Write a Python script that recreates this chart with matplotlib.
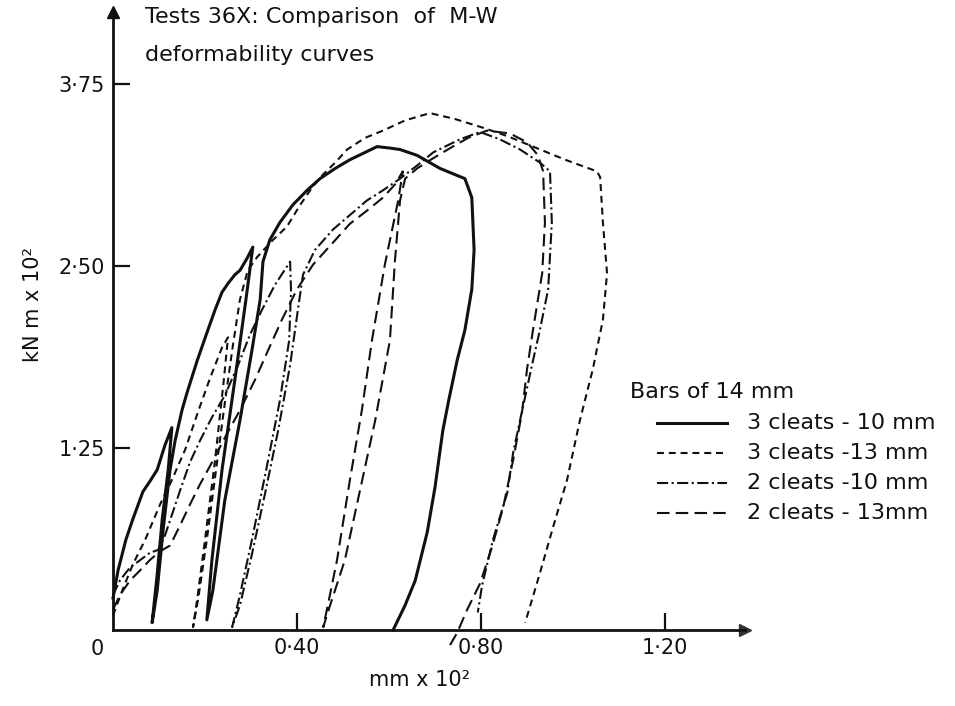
import matplotlib
matplotlib.use("Agg")
import matplotlib.pyplot as plt
from matplotlib.lines import Line2D

plt.rcParams['font.family'] = ['DejaVu Sans']
plt.rcParams['lines.scale_dashes'] = False

# ---------------- data (x: mm x 10^2, y: kN m x 10^2) ----------------
x_ticks = [0.40, 0.80, 1.20]
x_tick_labels = ["0·40", "0·80", "1·20"]
y_ticks = [1.25, 2.50, 3.75]
y_tick_labels = ["1·25", "2·50", "3·75"]

series_labels = ["3 cleats - 10 mm", "3 cleats -13 mm", "2 cleats -10 mm", "2 cleats - 13mm"]

# 3 cleats - 10 mm (solid)
s310_x = [0.000, 0.011, 0.028, 0.043, 0.065, 0.080, 0.096, 0.113, 0.128,
          0.120, 0.107, 0.096, 0.085,
          0.096, 0.109, 0.124, 0.135, 0.150, 0.161, 0.183, 0.204, 0.222, 0.237, 0.250,
          0.265, 0.276, 0.291, 0.304,
          0.289, 0.265, 0.237, 0.215, 0.204,
          0.217, 0.243, 0.276, 0.302, 0.320, 0.326,
          0.341, 0.363, 0.391, 0.422, 0.450, 0.483, 0.515, 0.548, 0.574, 0.602, 0.624,
          0.661, 0.711, 0.765, 0.780, 0.785, 0.780, 0.765, 0.748, 0.730, 0.717, 0.700,
          0.683, 0.657, 0.635, 0.609]
s310_y = [0.22, 0.41, 0.62, 0.76, 0.95, 1.02, 1.10, 1.27, 1.39,
          1.10, 0.76, 0.38, 0.05,
          0.27, 0.69, 1.10, 1.30, 1.51, 1.63, 1.85, 2.04, 2.20, 2.32, 2.38,
          2.44, 2.47, 2.55, 2.63,
          2.27, 1.72, 1.10, 0.48, 0.07,
          0.27, 0.89, 1.44, 1.92, 2.27, 2.53,
          2.68, 2.80, 2.92, 3.02, 3.10, 3.17, 3.23, 3.28, 3.32, 3.31, 3.30,
          3.26, 3.17, 3.10, 2.97, 2.61, 2.34, 2.06, 1.85, 1.58, 1.37, 0.98,
          0.67, 0.34, 0.17, 0.00]

# 3 cleats - 13 mm (short dashes)
s313_x = [0.000, 0.020, 0.043, 0.070, 0.102, 0.128, 0.157, 0.185, 0.211, 0.237, 0.250,
          0.241, 0.222, 0.200, 0.183, 0.174,
          0.185, 0.204, 0.224, 0.241, 0.259, 0.276, 0.293, 0.313, 0.348, 0.378, 0.407,
          0.433, 0.457, 0.483, 0.509, 0.548, 0.587, 0.635, 0.689, 0.743, 0.804, 0.859,
          0.913, 0.983, 1.052, 1.059, 1.065, 1.074, 1.065, 1.043, 1.015, 0.987, 0.957,
          0.928, 0.896]
s313_y = [0.10, 0.27, 0.45, 0.62, 0.86, 1.03, 1.24, 1.50, 1.73, 1.94, 2.01,
          1.72, 1.17, 0.62, 0.21, 0.02,
          0.21, 0.62, 1.10, 1.51, 1.92, 2.27, 2.47, 2.56, 2.68, 2.77, 2.92,
          3.04, 3.13, 3.21, 3.30, 3.38, 3.43, 3.50, 3.55, 3.51, 3.45, 3.39,
          3.32, 3.23, 3.15, 3.11, 2.80, 2.45, 2.13, 1.79, 1.44, 1.03, 0.71,
          0.39, 0.05]

# 2 cleats - 10 mm (dash-dot)
s210_x = [0.000, 0.015, 0.037, 0.059, 0.080, 0.098, 0.113, 0.128, 0.146, 0.167, 0.189,
          0.215, 0.243, 0.272, 0.298, 0.324, 0.352, 0.385,
          0.387, 0.383, 0.363, 0.333, 0.302, 0.276, 0.259,
          0.276, 0.302, 0.330, 0.359, 0.385, 0.402, 0.413,
          0.439, 0.478, 0.515, 0.552, 0.587, 0.624, 0.661, 0.696, 0.754, 0.798, 0.841,
          0.885, 0.928, 0.950, 0.954, 0.946, 0.928, 0.913, 0.891, 0.870, 0.857, 0.826,
          0.802, 0.793]
s210_y = [0.24, 0.34, 0.43, 0.48, 0.53, 0.55, 0.65, 0.79, 0.96, 1.15, 1.30,
          1.46, 1.61, 1.82, 2.03, 2.20, 2.37, 2.53,
          2.34, 1.99, 1.58, 1.10, 0.62, 0.24, 0.02,
          0.17, 0.52, 0.93, 1.37, 1.82, 2.20, 2.44,
          2.61, 2.75, 2.85, 2.95, 3.02, 3.10, 3.19, 3.28, 3.37, 3.42, 3.37,
          3.30, 3.21, 3.15, 2.80, 2.34, 2.06, 1.85, 1.53, 1.22, 0.94, 0.62,
          0.30, 0.12]

# 2 cleats - 13 mm (long dashes)
s213_x = [0.000, 0.015, 0.037, 0.059, 0.080, 0.102, 0.124, 0.146, 0.167, 0.189, 0.215,
          0.243, 0.276, 0.309, 0.337, 0.367, 0.400, 0.435, 0.478, 0.515, 0.552, 0.587,
          0.613, 0.630,
          0.620, 0.591, 0.563, 0.541, 0.515, 0.487, 0.467, 0.457,
          0.472, 0.504, 0.537, 0.570, 0.602, 0.613, 0.624, 0.635,
          0.661, 0.696, 0.733, 0.772, 0.813, 0.863, 0.900, 0.924, 0.935, 0.939, 0.933,
          0.913, 0.900, 0.889, 0.870, 0.848, 0.824, 0.798, 0.770, 0.748, 0.726]
s213_y = [0.14, 0.24, 0.34, 0.41, 0.48, 0.54, 0.58, 0.72, 0.86, 1.00, 1.15,
          1.32, 1.51, 1.72, 1.92, 2.13, 2.34, 2.51, 2.66, 2.79, 2.88, 2.97,
          3.06, 3.15,
          2.95, 2.51, 1.99, 1.51, 1.03, 0.48, 0.17, 0.02,
          0.17, 0.48, 0.96, 1.44, 1.99, 2.54, 2.95, 3.10,
          3.17, 3.24, 3.31, 3.38, 3.43, 3.41, 3.35, 3.26, 3.15, 2.80, 2.45,
          2.06, 1.79, 1.49, 1.17, 0.84, 0.57, 0.32, 0.14, -0.02, -0.14]

# ---------------- styles ----------------
LS_SOLID = '-'
LS_SHORT = (0, (5, 3.5))
LS_DASHDOT = (0, (8, 2.5, 1.5, 2.5))
LS_LONG = (0, (9, 4.5))
INK = '#111111'
LW_SOLID, LW_THIN = 2.2, 1.5

W, H = 955, 706
fig = plt.figure(figsize=(W / 100, H / 100), dpi=100)
ox, oy = 113, 630          # origin in pixels (from top-left)
xr, yt = 745, 12           # axis arrow tips
px_per_x, px_per_y = 460.0, 145.6
ax = fig.add_axes([ox / W, (H - oy) / H, (xr - ox) / W, (oy - yt) / H])
ax.set_xlim(0, (xr - ox) / px_per_x)
ax.set_ylim(0, (oy - yt) / px_per_y)
ax.patch.set_visible(False)

for s in ['top', 'right']:
    ax.spines[s].set_visible(False)
for s in ['left', 'bottom']:
    ax.spines[s].set_linewidth(2.0)
    ax.spines[s].set_color(INK)

ax.plot([1], [0], marker='>', ms=9, color='#333333', transform=ax.transAxes, clip_on=False)
ax.plot([0], [1], marker='^', ms=9, color=INK, transform=ax.transAxes, clip_on=False)

ax.set_xticks(x_ticks, x_tick_labels)
ax.set_yticks(y_ticks, y_tick_labels)
ax.tick_params(direction='in', length=12, width=1.6, colors=INK, labelsize=15, pad=6)

common = dict(color=INK, clip_on=False, solid_joinstyle='round', dash_joinstyle='round')
ax.plot(s310_x, s310_y, ls=LS_SOLID, lw=LW_SOLID, **common)
ax.plot(s313_x, s313_y, ls=LS_SHORT, lw=LW_THIN, **common)
ax.plot(s210_x, s210_y, ls=LS_DASHDOT, lw=LW_THIN, **common)
ax.plot(s213_x, s213_y, ls=LS_LONG, lw=LW_THIN, **common)

def fx(p):
    return p / W

def fy(p):
    return 1 - p / H

# origin label, axis labels, title
fig.text(fx(97), fy(649), "0", fontsize=15, ha='center', va='center', color=INK)
fig.text(fx(420), fy(680), "mm x 10²", fontsize=15, ha='center', va='center', color=INK)
fig.text(fx(33), fy(304), "kN m x 10²", fontsize=15, ha='center', va='center',
         rotation=90, color=INK)
fig.text(fx(145), fy(23), "Tests 36X: Comparison  of  M-W", fontsize=16,
         ha='left', va='baseline', color=INK)
fig.text(fx(145), fy(61), "deformability curves", fontsize=16,
         ha='left', va='baseline', color=INK)

# legend
fig.text(fx(630), fy(392), "Bars of 14 mm", fontsize=16, ha='left', va='center', color=INK)
styles = [(LS_SOLID, LW_SOLID), (LS_SHORT, LW_THIN), (LS_DASHDOT, LW_THIN), (LS_LONG, LW_THIN)]
for i, (lab, (ls, lw)) in enumerate(zip(series_labels, styles)):
    yy = 423 + i * 30
    fig.add_artist(Line2D([fx(657), fx(727)], [fy(yy), fy(yy)], color=INK, ls=ls, lw=lw,
                          transform=fig.transFigure))
    fig.text(fx(747), fy(yy), lab, fontsize=16, ha='left', va='center', color=INK)

fig.savefig("out.png", dpi=100, facecolor='white')
